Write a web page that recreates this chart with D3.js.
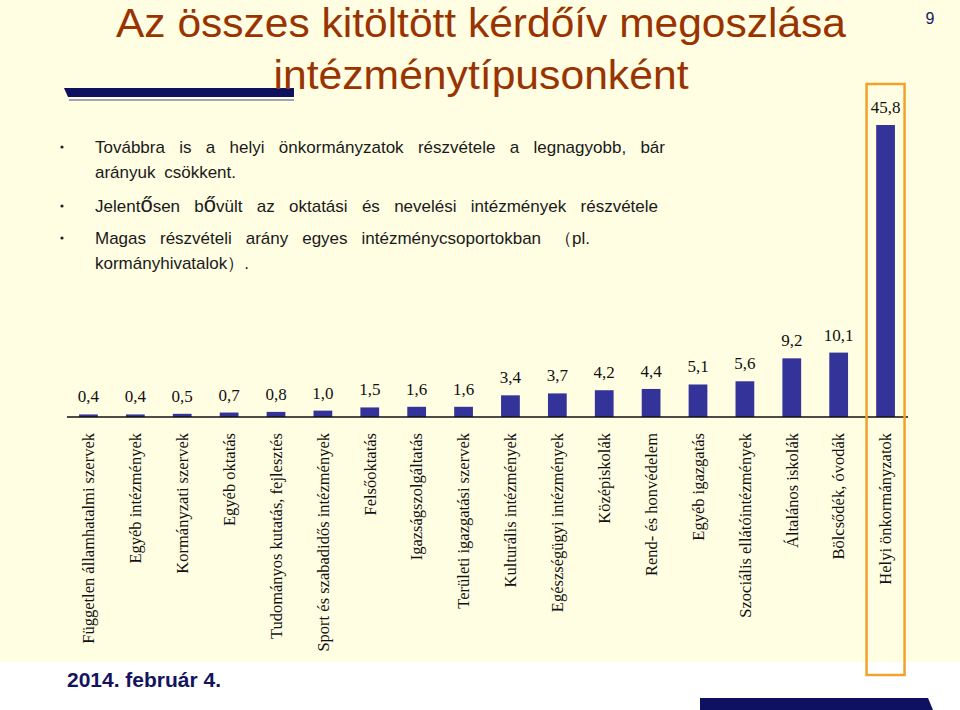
<!DOCTYPE html>
<html>
<head>
<meta charset="utf-8">
<script src="https://cdn.jsdelivr.net/npm/d3@7"></script>
<style>
  body { margin: 0; background: #fff; }
  svg { display: block; }
</style>
</head>
<body>
<script>
var categories = [
  "Független államhatalmi szervek", "Egyéb intézmények", "Kormányzati szervek",
  "Egyéb oktatás", "Tudományos kutatás, fejlesztés", "Sport és szabadidős intézmények",
  "Felsőoktatás", "Igazságszolgáltatás", "Területi igazgatási szervek",
  "Kulturális intézmények", "Egészségügyi intézmények", "Középiskolák",
  "Rend- és honvédelem", "Egyéb igazgatás", "Szociális ellátóintézmények",
  "Általános iskolák", "Bölcsődék, óvodák", "Helyi önkormányzatok"
];
var values = [0.4, 0.4, 0.5, 0.7, 0.8, 1.0, 1.5, 1.6, 1.6, 3.4, 3.7, 4.2, 4.4, 5.1, 5.6, 9.2, 10.1, 45.8];
var titleLines = ["Az összes kitöltött kérdőív megoszlása", "intézménytípusonként"];
var bulletLines = [
  { text: "Továbbra is a helyi önkormányzatok részvétele a legnagyobb, bár", dot: true, fit: 570 },
  { text: "arányuk csökkent.", dot: false, fit: 0 },
  { text: "Jelentősen bővült az oktatási és nevelési intézmények részvétele", dot: true, fit: 563 },
  { text: "Magas részvételi arány egyes intézménycsoportokban （pl.", dot: true, fit: 495 },
  { text: "kormányhivatalok）.", dot: false, fit: 0 }
];
var dateText = "2014. február 4.";
var pageNum = "9";

var width = 960, height = 710;
var svg = d3.select("body").append("svg")
  .attr("width", width)
  .attr("height", height);

// slide background
svg.append("rect").attr("width", width).attr("height", 662).attr("fill", "#fffde2");

// decorative bars
svg.append("path").attr("d", "M64,88 L294,88 L294,97 L68,97 Z").attr("fill", "#0d1160");
svg.append("rect").attr("x", 69).attr("y", 99).attr("width", 225).attr("height", 2).attr("fill", "#a2a2b8");
svg.append("path").attr("d", "M700,698 L928,698 L933,710 L700,710 Z").attr("fill", "#0d1160");

// title
svg.selectAll(".title")
  .data(titleLines)
  .enter()
  .append("text")
  .attr("class", "title")
  .attr("x", 481)
  .attr("y", function (d, i) { return i == 0 ? 37 : 89; })
  .attr("text-anchor", "middle")
  .attr("font-family", "'Liberation Sans Narrow', 'Liberation Sans', Arial, sans-serif")
  .attr("font-size", 41)
  .attr("fill", "#993300")
  .attr("textLength", function (d, i) { return i == 0 ? 730 : 415; })
  .attr("lengthAdjust", "spacingAndGlyphs")
  .text(function (d) { return d; });

svg.append("text")
  .attr("x", 930).attr("y", 24)
  .attr("text-anchor", "middle")
  .attr("font-family", "'Liberation Sans', Arial, sans-serif")
  .attr("font-size", 16)
  .attr("fill", "#1a1a5e")
  .text(pageNum);

// bullet text
var lineY = [153, 178, 212, 244, 269];
bulletLines.forEach(function (line, i) {
  if (line.dot) {
    svg.append("circle").attr("cx", 62).attr("cy", lineY[i] - 6).attr("r", 1.6).attr("fill", "#222");
  }
  var t = svg.append("text")
    .attr("x", 95).attr("y", lineY[i])
    .attr("font-family", "'Liberation Sans', Arial, sans-serif")
    .attr("font-size", 17)
    .attr("fill", "#1a1a1a")
    .style("word-spacing", "4px");
  line.text.split(/(ő)/).forEach(function (part) {
    if (!part) return;
    var s = t.append("tspan").text(part);
    if (part == "ő") s.attr("font-size", 22);
  });
  if (line.fit) {
    var len = t.node().getComputedTextLength();
    var spaces = line.text.split(" ").length - 1;
    t.style("word-spacing", ((line.fit - len) / spaces + 4) + "px");
  }
});

// chart
var x = d3.scaleBand()
  .domain(categories)
  .range([65, 909])
  .paddingInner(0.6)
  .paddingOuter(0.3);

var y = d3.scaleLinear()
  .domain([0, 45.8])
  .range([417, 125]);

var bars = svg.append("g");
bars.selectAll("rect")
  .data(values)
  .enter()
  .append("rect")
  .attr("x", function (d, i) { return x(categories[i]); })
  .attr("y", function (d) { return y(d); })
  .attr("width", x.bandwidth())
  .attr("height", function (d) { return y(0) - y(d); })
  .attr("fill", "#333399");

var fmt = d3.format(".1f");
bars.selectAll("text")
  .data(values)
  .enter()
  .append("text")
  .attr("x", function (d, i) { return x(categories[i]) + x.bandwidth() / 2; })
  .attr("y", function (d) { return y(d) - 12; })
  .attr("text-anchor", "middle")
  .attr("font-family", "'Liberation Serif', 'Times New Roman', serif")
  .attr("font-size", 17)
  .attr("fill", "#111")
  .text(function (d) { return fmt(d).replace(".", ","); });

// x axis line
svg.append("line")
  .attr("x1", 67).attr("x2", 908)
  .attr("y1", y(0)).attr("y2", y(0))
  .attr("stroke", "#111")
  .attr("stroke-width", 1.5);

// category labels
svg.append("g").selectAll("text")
  .data(categories)
  .enter()
  .append("text")
  .attr("transform", function (d) {
    return "translate(" + (x(d) + x.bandwidth() / 2) + ",433) rotate(-90)";
  })
  .attr("dy", "0.35em")
  .attr("text-anchor", "end")
  .attr("font-family", "'Liberation Serif', 'Times New Roman', serif")
  .attr("font-size", 16.5)
  .attr("fill", "#111")
  .text(function (d) { return d; });

// highlight box round the largest group
var last = categories[categories.length - 1];
var cx = x(last) + x.bandwidth() / 2;
svg.append("rect")
  .attr("x", cx - 19).attr("y", 84)
  .attr("width", 38).attr("height", 591)
  .attr("fill", "none")
  .attr("stroke", "#f2a22c")
  .attr("stroke-width", 2.5);

// date
svg.append("text")
  .attr("x", 67).attr("y", 687)
  .attr("font-family", "'Liberation Sans', Arial, sans-serif")
  .attr("font-weight", "bold")
  .attr("font-size", 20)
  .attr("textLength", 154)
  .attr("lengthAdjust", "spacingAndGlyphs")
  .attr("fill", "#14145e")
  .text(dateText);
</script>
</body>
</html>
